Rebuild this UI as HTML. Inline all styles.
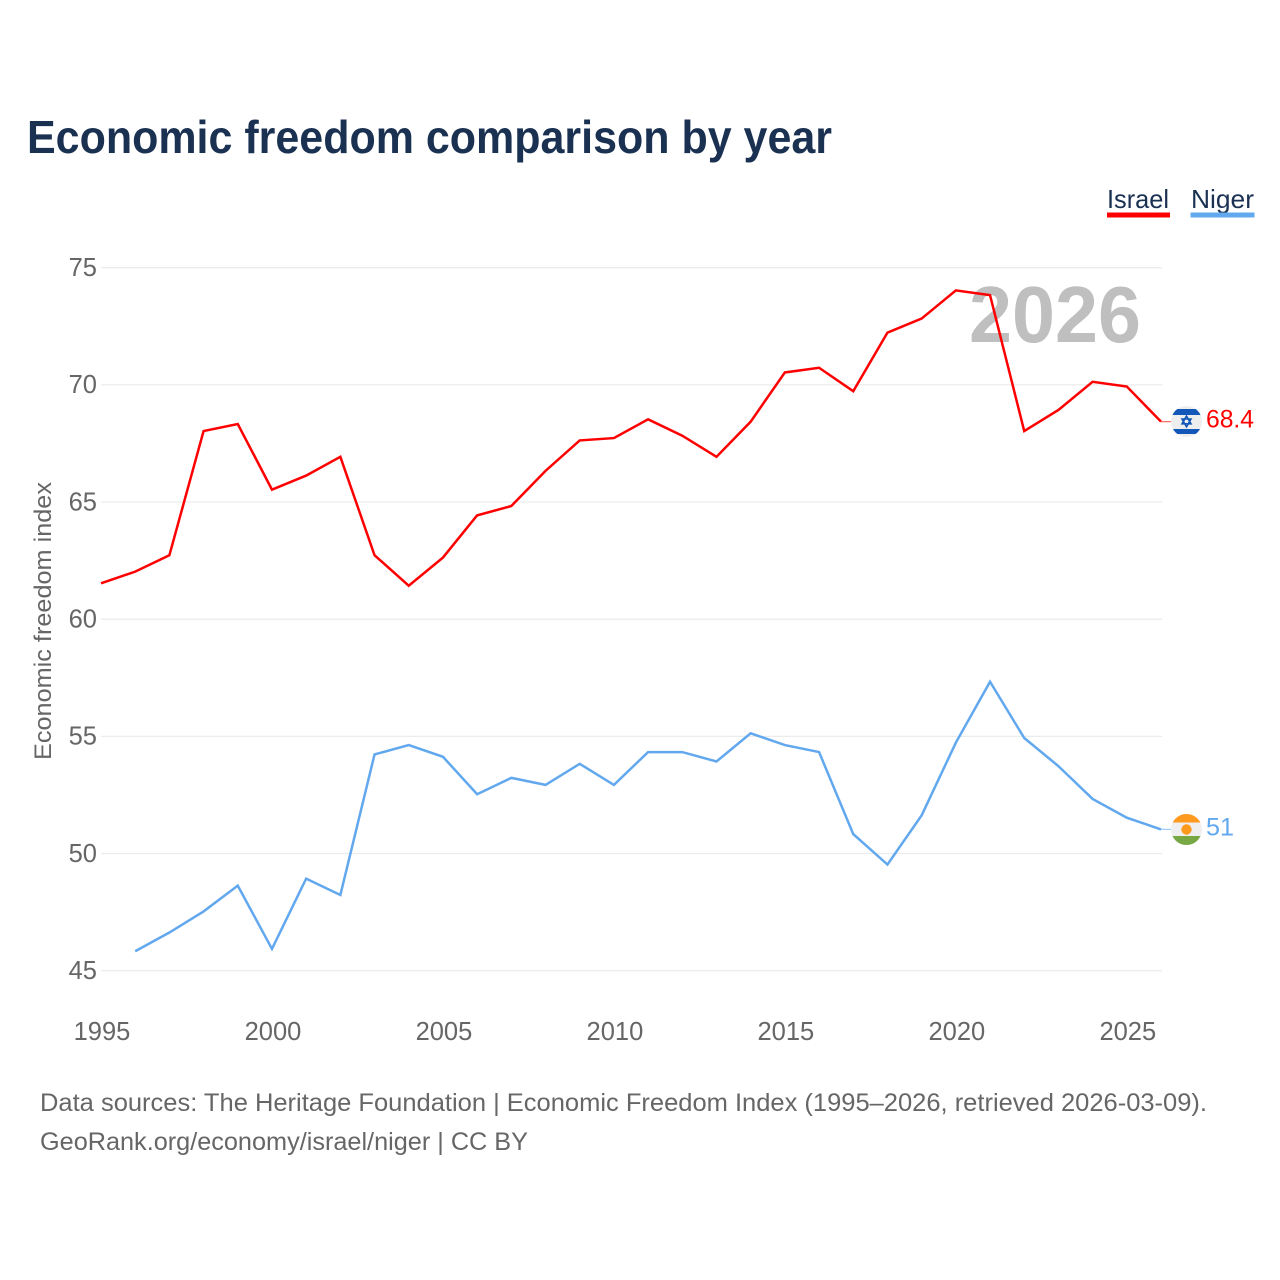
<!DOCTYPE html>
<html lang="en">
<head>
<meta charset="utf-8">
<title>Economic freedom comparison by year</title>
<style>
  html, body { margin: 0; padding: 0; background: #fff; }
  svg { display: block; }
  text { font-family: "Liberation Sans", sans-serif; }
  .tick { font-size: 25.5px; fill: #666; }
  .foot { font-size: 25px; fill: #666; }
</style>
</head>
<body>
<svg id="chart" width="1280" height="1280" viewBox="0 0 1280 1280" xmlns="http://www.w3.org/2000/svg">
  <defs>
    <clipPath id="clip-il"><circle cx="1186.5" cy="421.5" r="15.5"/></clipPath>
    <clipPath id="clip-ne"><circle cx="1186.5" cy="829.5" r="15.5"/></clipPath>
  </defs>
  <rect x="0" y="0" width="1280" height="1280" fill="#fff"/>
  <text x="27" y="153" font-size="46" font-weight="700" fill="#1a3152" textLength="805" lengthAdjust="spacingAndGlyphs">Economic freedom comparison by year</text>

  <g>
    <g>
      <text x="1107" y="208" font-size="26" fill="#1a3152" textLength="62" lengthAdjust="spacingAndGlyphs">Israel</text>
      <rect x="1107" y="212.5" width="63" height="5" fill="#ff0000"/>
    </g>
    <g>
      <text x="1191" y="208" font-size="26" fill="#1a3152" textLength="63" lengthAdjust="spacingAndGlyphs">Niger</text>
      <rect x="1190.5" y="212.5" width="64" height="5" fill="#62a8ee"/>
    </g>
  </g>

  <g id="grid"></g>
  <g id="yticks"></g>
  <g id="xticks"></g>

  <text transform="translate(51,621) rotate(-90)" text-anchor="middle" font-size="24" fill="#666" textLength="278" lengthAdjust="spacingAndGlyphs">Economic freedom index</text>
  <text x="969" y="342" font-size="80" font-weight="700" fill="#bfbfbf" textLength="172" lengthAdjust="spacingAndGlyphs">2026</text>

  <g id="series"></g>

  <g clip-path="url(#clip-il)">
    <rect x="1171" y="406" width="31" height="31" fill="#eeeeee"/>
    <rect x="1171" y="409" width="31" height="6" fill="#1358b8"/>
    <rect x="1171" y="429" width="31" height="5" fill="#1358b8"/>
    <polygon points="1186.5,416 1191,423.8 1182,423.8" fill="none" stroke="#1358b8" stroke-width="1.6"/>
    <polygon points="1186.5,426.8 1191,419 1182,419" fill="none" stroke="#1358b8" stroke-width="1.6"/>
  </g>
  <text id="label-israel" x="1206" y="427.5" font-size="25" fill="#ff0000" textLength="48" lengthAdjust="spacingAndGlyphs"></text>

  <g clip-path="url(#clip-ne)">
    <rect x="1171" y="814" width="31" height="31" fill="#efefef"/>
    <rect x="1171" y="814" width="31" height="8.5" fill="#ff9a1f"/>
    <rect x="1171" y="836" width="31" height="9" fill="#77a843"/>
    <circle cx="1186.5" cy="829.5" r="5.2" fill="#ff9a1f"/>
  </g>
  <text id="label-niger" x="1206" y="835.5" font-size="25" fill="#62a8ee" textLength="28" lengthAdjust="spacingAndGlyphs"></text>

  <text class="foot" x="40" y="1111" textLength="1167" lengthAdjust="spacingAndGlyphs">Data sources: The Heritage Foundation | Economic Freedom Index (1995–2026, retrieved 2026-03-09).</text>
  <text class="foot" x="40" y="1150" textLength="488" lengthAdjust="spacingAndGlyphs">GeoRank.org/economy/israel/niger | CC BY</text>
</svg>
<script>
const years = [1995,1996,1997,1998,1999,2000,2001,2002,2003,2004,2005,2006,2007,2008,2009,2010,2011,2012,2013,2014,2015,2016,2017,2018,2019,2020,2021,2022,2023,2024,2025,2026];
const israelValues = [61.5,62.0,62.7,68.0,68.3,65.5,66.1,66.9,62.7,61.4,62.6,64.4,64.8,66.3,67.6,67.7,68.5,67.8,66.9,68.4,70.5,70.7,69.7,72.2,72.8,74.0,73.8,68.0,68.9,70.1,69.9,68.4];
const nigerValues = [null,45.8,46.6,47.5,48.6,45.9,48.9,48.2,54.2,54.6,54.1,52.5,53.2,52.9,53.8,52.9,54.3,54.3,53.9,55.1,54.6,54.3,50.8,49.5,51.6,54.7,57.3,54.9,53.7,52.3,51.5,51.0];
const yTickValues = [45,50,55,60,65,70,75];
const xTickValues = [1995,2000,2005,2010,2015,2020,2025];

const NS = 'http://www.w3.org/2000/svg';
const xScale = function (year) { return 101 + (year - 1995) * (1161 - 101) / (2026 - 1995); };
const yScale = function (value) { return 970 - (value - 45) * (970 - 267) / (75 - 45); };

const gridGroup = document.getElementById('grid');
const yGroup = document.getElementById('yticks');
const xGroup = document.getElementById('xticks');
const seriesGroup = document.getElementById('series');

yTickValues.forEach(function (value) {
  const line = document.createElementNS(NS, 'line');
  
  
  line.setAttribute('x1', 101);
  line.setAttribute('x2', 1162);
  line.setAttribute('y1', yScale(value) + 0.7);
  line.setAttribute('y2', yScale(value) + 0.7);
  line.setAttribute('stroke', '#ececec');
  line.setAttribute('stroke-width', 1.3);
  gridGroup.appendChild(line);

  const label = document.createElementNS(NS, 'text');
  
  
  label.setAttribute('class', 'tick');
  label.setAttribute('x', 97);
  label.setAttribute('y', yScale(value) + 9);
  label.setAttribute('text-anchor', 'end');
  label.textContent = value;
  yGroup.appendChild(label);
});

xTickValues.forEach(function (year) {
  const label = document.createElementNS(NS, 'text');
  
  
  label.setAttribute('class', 'tick');
  label.setAttribute('x', xScale(year) + 1);
  label.setAttribute('y', 1040);
  label.setAttribute('text-anchor', 'middle');
  label.textContent = year;
  xGroup.appendChild(label);
});

function pathFor(values) {
  let d = '';
  values.forEach(function (value, i) {
    if (value === null) return;
    d += (d === '' ? 'M' : 'L') + xScale(years[i]).toFixed(2) + ' ' + yScale(value).toFixed(2);
  });
  return d;
}

function lastValue(values) {
  return values[values.length - 1];
}

const israelLine = document.createElementNS(NS, 'path');


israelLine.setAttribute('d', pathFor(israelValues));
israelLine.setAttribute('fill', 'none');
israelLine.setAttribute('stroke', '#ff0000');
israelLine.setAttribute('stroke-width', 2.5);
israelLine.setAttribute('stroke-linejoin', 'miter');
seriesGroup.appendChild(israelLine);

const nigerLine = document.createElementNS(NS, 'path');


nigerLine.setAttribute('d', pathFor(nigerValues));
nigerLine.setAttribute('fill', 'none');
nigerLine.setAttribute('stroke', '#62a8ee');
nigerLine.setAttribute('stroke-width', 2.5);
nigerLine.setAttribute('stroke-linejoin', 'miter');
seriesGroup.appendChild(nigerLine);

const israelConnector = document.createElementNS(NS, 'line');


israelConnector.setAttribute('x1', xScale(2026));
israelConnector.setAttribute('x2', xScale(2026) + 10);
israelConnector.setAttribute('y1', yScale(lastValue(israelValues)));
israelConnector.setAttribute('y2', yScale(lastValue(israelValues)));
israelConnector.setAttribute('stroke', '#ff0000');
israelConnector.setAttribute('stroke-opacity', 0.6);
israelConnector.setAttribute('stroke-width', 1.2);
seriesGroup.appendChild(israelConnector);

const nigerConnector = document.createElementNS(NS, 'line');


nigerConnector.setAttribute('x1', xScale(2026));
nigerConnector.setAttribute('x2', xScale(2026) + 10);
nigerConnector.setAttribute('y1', yScale(lastValue(nigerValues)));
nigerConnector.setAttribute('y2', yScale(lastValue(nigerValues)));
nigerConnector.setAttribute('stroke', '#62a8ee');
nigerConnector.setAttribute('stroke-opacity', 0.6);
nigerConnector.setAttribute('stroke-width', 1.2);
seriesGroup.appendChild(nigerConnector);

document.getElementById('label-israel').textContent = lastValue(israelValues);
document.getElementById('label-niger').textContent = lastValue(nigerValues);
</script>
</body>
</html>
